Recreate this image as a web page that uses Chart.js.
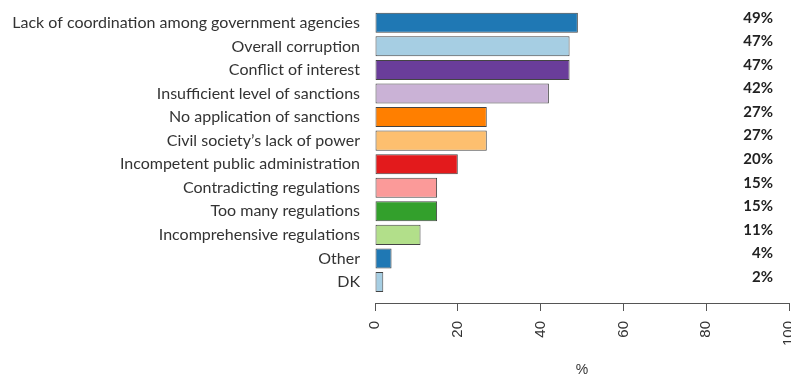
<!DOCTYPE html>
<html>
<head>
<meta charset="utf-8">
<script src="https://cdn.jsdelivr.net/npm/chart.js@4"></script>
<style>
  html, body { margin: 0; padding: 0; background: #fff; }
  #wrap { width: 791px; height: 376px; }
</style>
</head>
<body>
<div id="wrap"><canvas id="barChart" width="791" height="376"></canvas></div>
<script>
// data
var categories = [
  "Lack of coordination among government agencies",
  "Overall corruption",
  "Conflict of interest",
  "Insufficient level of sanctions",
  "No application of sanctions",
  "Civil society\u2019s lack of power",
  "Incompetent public administration",
  "Contradicting regulations",
  "Too many regulations",
  "Incomprehensive regulations",
  "Other",
  "DK"
];
var values = [49, 47, 47, 42, 27, 27, 20, 15, 15, 11, 4, 2];
var xTicks = [0, 20, 40, 60, 80, 100];
var barColors = [
  "#1F78B4", "#A6CEE3", "#6A3D9A", "#CAB2D6", "#FF7F00", "#FDBF6F",
  "#E31A1C", "#FB9A99", "#33A02C", "#B2DF8A", "#1F78B4", "#A6CEE3"
];

// percent column on the right
var pctLabels = {
  id: "pctLabels",
  afterDatasetsDraw: function (chart) {
    var ctx = chart.ctx;
    var yScale = chart.scales.y;
    var right = chart.chartArea.right - 16;
    ctx.save();
    ctx.font = "bold 15px Lato";
    ctx.fillStyle = "#222";
    ctx.textAlign = "right";
    ctx.textBaseline = "middle";
    values.forEach(function (v, i) {
      ctx.fillText(v + "%", right, yScale.getPixelForValue(i) - 5);
    });
    ctx.restore();
  }
};

var ctx_bar = document.getElementById("barChart").getContext("2d");

var barChart = new Chart(ctx_bar, {
  type: "bar",
  data: {
    datasets: [
      {
        data: values.map(function (v, i) { return { x: v, y: i }; }),
        backgroundColor: barColors,
        borderColor: "#444",
        borderWidth: 1,
        borderSkipped: false,
        barPercentage: 0.85,
        categoryPercentage: 1,
      },
    ],
  },
  options: {
    indexAxis: "y",
    responsive: false,
    animation: false,
    layout: { padding: { left: 0, right: 2, top: 11, bottom: 0 } },
    plugins: {
      legend: { display: false },
      tooltip: { enabled: false },
    },
    scales: {
      y: {
        type: "linear",
        reverse: true,
        offset: false,
        min: -0.5,
        max: 11.89,
        grid: { display: false, drawTicks: false, offset: false },
        border: { display: false },
        afterBuildTicks: function (scale) {
          scale.ticks = categories.map(function (c, i) { return { value: i }; });
        },
        afterFit: function (scale) {
          scale.width = 375;
          scale.paddingTop = 0;
          scale.paddingBottom = 0;
        },
        ticks: {
          padding: 15,
          autoSkip: false,
          color: "#333",
          font: { family: "Lato", size: 16 },
          callback: function (value) { return categories[value]; },
        },
      },
      x: {
        type: "linear",
        min: 0,
        max: 100,
        afterBuildTicks: function (scale) {
          scale.ticks = xTicks.map(function (t) { return { value: t }; });
        },
        afterFit: function (scale) {
          scale.height = 73;
          scale.paddingLeft = 0;
          scale.paddingRight = 0;
        },
        grid: { drawOnChartArea: false, drawTicks: true, tickLength: 8, color: "#555" },
        border: { display: true, color: "#555", width: 1 },
        ticks: {
          padding: 10,
          minRotation: 90,
          maxRotation: 90,
          autoSkip: false,
          color: "#333",
          font: { family: "Liberation Sans", size: 15 },
        },
        title: {
          display: true,
          text: "%",
          color: "#333",
          font: { family: "Liberation Sans", size: 14, lineHeight: 0.8 },
          padding: { top: 0, bottom: 0 },
        },
      },
    },
  },
  plugins: [pctLabels],
});
</script>
</body>
</html>
